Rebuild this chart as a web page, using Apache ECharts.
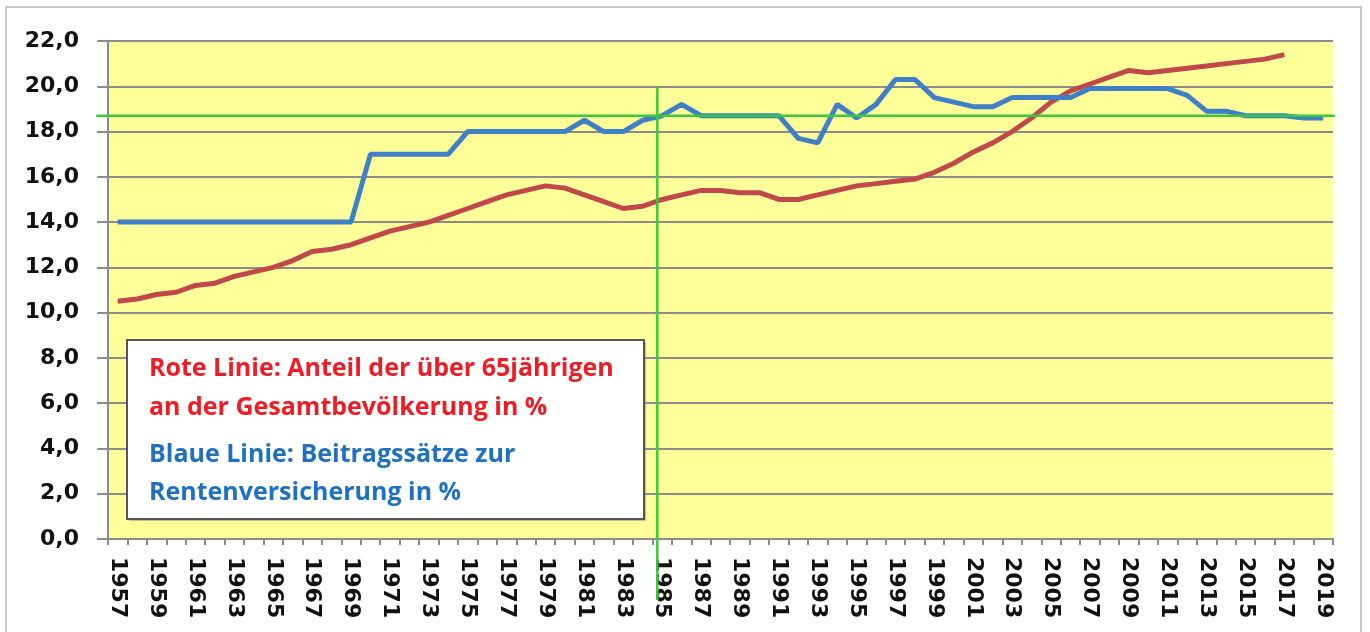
<!DOCTYPE html>
<html><head><meta charset="utf-8">
<script src="https://cdn.jsdelivr.net/npm/echarts@6/dist/echarts.min.js"></script>
<style>html,body{margin:0;padding:0;background:#fff}#c{width:1370px;height:632px}</style>
</head><body><div id="c"></div>
<script>
var years = [];
for (var y = 1957; y <= 2019; y++) years.push(String(y));

var beitragssaetze = [
  14.0,14.0,14.0,14.0,14.0,14.0,14.0,14.0,14.0,14.0,14.0,14.0,14.0,
  17.0,17.0,17.0,17.0,17.0,
  18.0,18.0,18.0,18.0,18.0,18.0,
  18.5,18.0,18.0,18.5,18.7,19.2,
  18.7,18.7,18.7,18.7,18.7,
  17.7,17.5,19.2,18.6,19.2,20.3,20.3,19.5,19.3,19.1,19.1,
  19.5,19.5,19.5,19.5,
  19.9,19.9,19.9,19.9,19.9,
  19.6,18.9,18.9,
  18.7,18.7,18.7,
  18.6,18.6
];

var anteil65 = [
  10.5,10.6,10.8,10.9,11.2,11.3,11.6,11.8,12.0,12.3,
  12.7,12.8,13.0,13.3,13.6,13.8,14.0,14.3,14.6,14.9,
  15.2,15.4,15.6,15.5,15.2,14.9,14.6,14.7,15.0,15.2,
  15.4,15.4,15.3,15.3,15.0,15.0,15.2,15.4,15.6,15.7,
  15.8,15.9,16.2,16.6,17.1,17.5,18.0,18.6,19.3,19.8,
  20.1,20.4,20.7,20.6,20.7,20.8,20.9,21.0,21.1,21.2,
  21.4,null,null
];

// reference lines: horizontal level 18.7; vertical line just before 1985
var referenzWert = 18.7;
var referenzJahr = '1985';
var referenzJahrVersatz = -0.25;          // fraction of a category step
var referenzVertikal = [20, -2.7];        // value range of the vertical line
var referenzHorizontal = ['1957', '2019']; // horizontal line runs past these
var referenzHorizontalVersatz = [-1.1, 0.6];

var legendLines = [
  "Rote Linie: Anteil der über 65jährigen",
  "an der Gesamtbevölkerung in %",
  "Blaue Linie: Beitragssätze zur",
  "Rentenversicherung in %"
];

var chart = echarts.init(document.getElementById('c'));
var txtFont = '"Open Sans", Lato, sans-serif';
chart.setOption({
  animation: false,
  backgroundColor: '#fff',
  grid: { left: 108, right: 37, top: 41, bottom: 93, show: true, backgroundColor: '#ffff99', borderWidth: 0 },
  xAxis: {
    type: 'category', data: years, boundaryGap: true,
    axisLine: { lineStyle: { color: '#8c8c8c', width: 2 } },
    axisTick: { show: true, interval: 0, length: 6, lineStyle: { color: '#8c8c8c', width: 2 } },
    axisLabel: { interval: 1, rotate: -90, margin: 18, color: '#111', fontFamily: 'DejaVu Sans', fontWeight: 'bold', fontSize: 22 },
    splitLine: { show: false }
  },
  yAxis: {
    type: 'value', min: 0, max: 22, interval: 2,
    axisLine: { show: true, lineStyle: { color: '#8c8c8c', width: 2 } },
    axisTick: { show: true, length: 11, lineStyle: { color: '#8c8c8c', width: 2 } },
    axisLabel: { margin: 29, color: '#111', fontFamily: 'DejaVu Sans', fontWeight: 'bold', fontSize: 22,
      formatter: function (v) { return v.toFixed(1).replace('.', ','); } },
    splitLine: { show: true, lineStyle: { color: '#8c8c8c', width: 2 } }
  },
  series: [
    {
      name: 'Anteil 65+', type: 'line', data: anteil65, symbol: 'none', connectNulls: false,
      lineStyle: { color: '#c0474a', width: 5 }, z: 3
    },
    {
      name: 'Beitragssatz', type: 'line', data: beitragssaetze, symbol: 'none',
      lineStyle: { color: '#3f7fc8', width: 5 }, z: 4
    },
    {
      name: 'Referenz', type: 'custom', clip: false, silent: true, z: 5,
      data: [[referenzJahr, referenzWert]],
      renderItem: function (params, api) {
        var step = api.size([1, 0])[0];
        var h1 = api.coord([referenzHorizontal[0], referenzWert]);
        var h2 = api.coord([referenzHorizontal[1], referenzWert]);
        var v1 = api.coord([referenzJahr, referenzVertikal[0]]);
        var v2 = api.coord([referenzJahr, referenzVertikal[1]]);
        var vx = v1[0] + referenzJahrVersatz * step;
        var st = { stroke: '#3cc83c', lineWidth: 2.5 };
        return { type: 'group', children: [
          { type: 'line', shape: { x1: h1[0] + referenzHorizontalVersatz[0] * step, y1: h1[1], x2: h2[0] + referenzHorizontalVersatz[1] * step, y2: h2[1] }, style: st },
          { type: 'line', shape: { x1: vx, y1: v1[1], x2: vx, y2: v2[1] }, style: st }
        ] };
      }
    }
  ],
  graphic: [
    { type: 'rect', shape: { x: 6, y: 7, width: 1355, height: 640 }, style: { fill: 'none', stroke: '#c8c8c8', lineWidth: 2 }, z: 0, silent: true },
    { type: 'rect', shape: { x: 129, y: 342, width: 517, height: 179 }, style: { fill: '#888', opacity: 0.5 }, z: 90 },
    { type: 'rect', shape: { x: 127, y: 340, width: 517, height: 179 }, style: { fill: '#fff', stroke: '#555', lineWidth: 2 }, z: 100 },
    { type: 'text', x: 149, y: 369, style: { text: legendLines[0], fill: '#ee1c24', font: 'bold 25px ' + txtFont, textVerticalAlign: 'middle' }, z: 101 },
    { type: 'text', x: 149, y: 408, style: { text: legendLines[1], fill: '#ee1c24', font: 'bold 25px ' + txtFont, textVerticalAlign: 'middle' }, z: 101 },
    { type: 'text', x: 149, y: 455, style: { text: legendLines[2], fill: '#1f70c1', font: 'bold 25px ' + txtFont, textVerticalAlign: 'middle' }, z: 101 },
    { type: 'text', x: 149, y: 493, style: { text: legendLines[3], fill: '#1f70c1', font: 'bold 25px ' + txtFont, textVerticalAlign: 'middle' }, z: 101 }
  ]
});
</script></body></html>
